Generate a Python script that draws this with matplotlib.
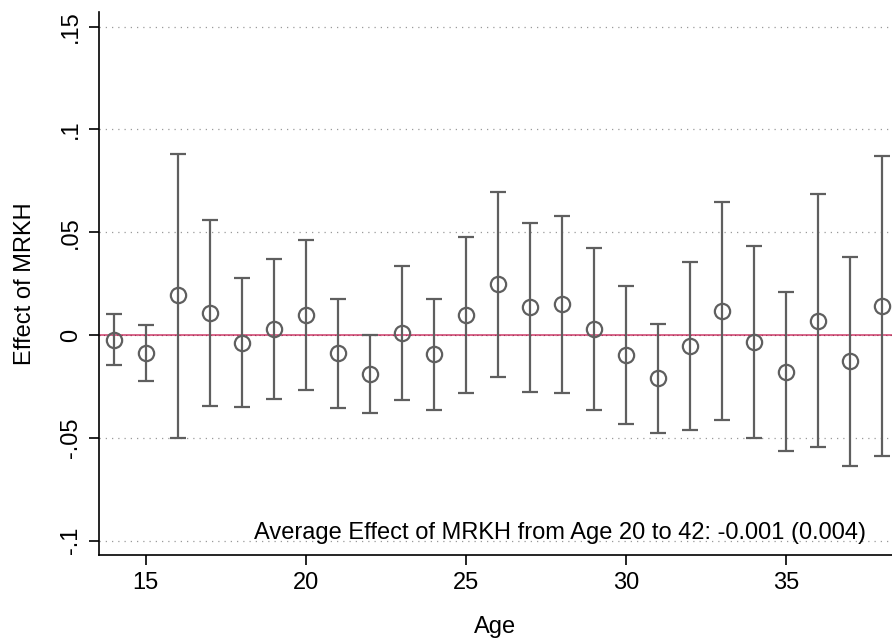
import matplotlib
matplotlib.use("Agg")
import matplotlib.pyplot as plt
import numpy as np

plt.rcParams['font.family'] = ['Liberation Sans', 'DejaVu Sans']

ages = [14, 15, 16, 17, 18, 19, 20, 21, 22, 23, 24, 25, 26, 27, 28, 29, 30, 31, 32, 33, 34, 35, 36, 37, 38]
coef = [-0.0024, -0.0088, 0.0195, 0.0109, -0.0036, 0.0029, 0.0099, -0.0089, -0.0191, 0.0011, -0.0094,
        0.0097, 0.0248, 0.0135, 0.0150, 0.0029, -0.0099, -0.0211, -0.0055, 0.0117, -0.0034, -0.0179,
        0.0070, -0.0128, 0.0141]
ci_hi = [0.0101, 0.0049, 0.0881, 0.0560, 0.0279, 0.0370, 0.0464, 0.0175, 0.0000, 0.0338, 0.0177,
         0.0477, 0.0698, 0.0544, 0.0580, 0.0425, 0.0239, 0.0055, 0.0354, 0.0646, 0.0433, 0.0208,
         0.0687, 0.0380, 0.0872]
ci_lo = [-0.0145, -0.0222, -0.0498, -0.0347, -0.0349, -0.0310, -0.0268, -0.0354, -0.0381, -0.0315, -0.0365,
         -0.0283, -0.0203, -0.0276, -0.0283, -0.0362, -0.0432, -0.0477, -0.0461, -0.0412, -0.0500, -0.0565,
         -0.0545, -0.0635, -0.0588]

yticks = [-0.1, -0.05, 0, 0.05, 0.1, 0.15]
ytick_labels = ['-.1', '-.05', '0', '.05', '.1', '.15']
xticks = [15, 20, 25, 30, 35]
note = "Average Effect of MRKH from Age 20 to 42: -0.001 (0.004)"

fig = plt.figure(figsize=(8.92, 6.44), dpi=100)
ax = fig.add_axes([0.1107, 0.1377, 0.8893, 0.8432])

gray = '#5f5f5f'
ax.set_xlim(13.53, 38.32)
ax.set_ylim(-0.1071, 0.157)

for y in yticks:
    ax.axhline(y, color='#9a9a9a', lw=0.9, ls=(0, (1, 4)), zorder=1)
ax.axhline(0, color='#d8668a', lw=1.4, zorder=1.5)
ax.axhline(0, color='#a03050', lw=0.8, ls=(0, (1, 3)), zorder=1.6)

c = np.array(coef)
yerr = np.array([c - np.array(ci_lo), np.array(ci_hi) - c])
ax.errorbar(ages, coef, yerr=yerr, fmt='o', mfc='none', mec=gray, mew=1.6, ms=11,
            ecolor=gray, elinewidth=1.6, capsize=5.5, capthick=1.6, zorder=3)

ax.set_yticks(yticks)
ax.set_yticklabels(ytick_labels, rotation=90, va='center')
ax.set_xticks(xticks)
ax.tick_params(axis='both', labelsize=17, length=7, width=1.2, color='black')
ax.tick_params(axis='y', pad=5)
ax.tick_params(axis='x', pad=5)

for s in ['top', 'right']:
    ax.spines[s].set_visible(False)
for s in ['left', 'bottom']:
    ax.spines[s].set_linewidth(1.2)

ax.set_xlabel('Age', fontsize=17, labelpad=16)
ax.set_ylabel('Effect of MRKH', fontsize=17, labelpad=17)

ax.text(37.51, -0.0993, note, fontsize=17, ha='right', va='baseline')

fig.savefig('out.png', dpi=100)
